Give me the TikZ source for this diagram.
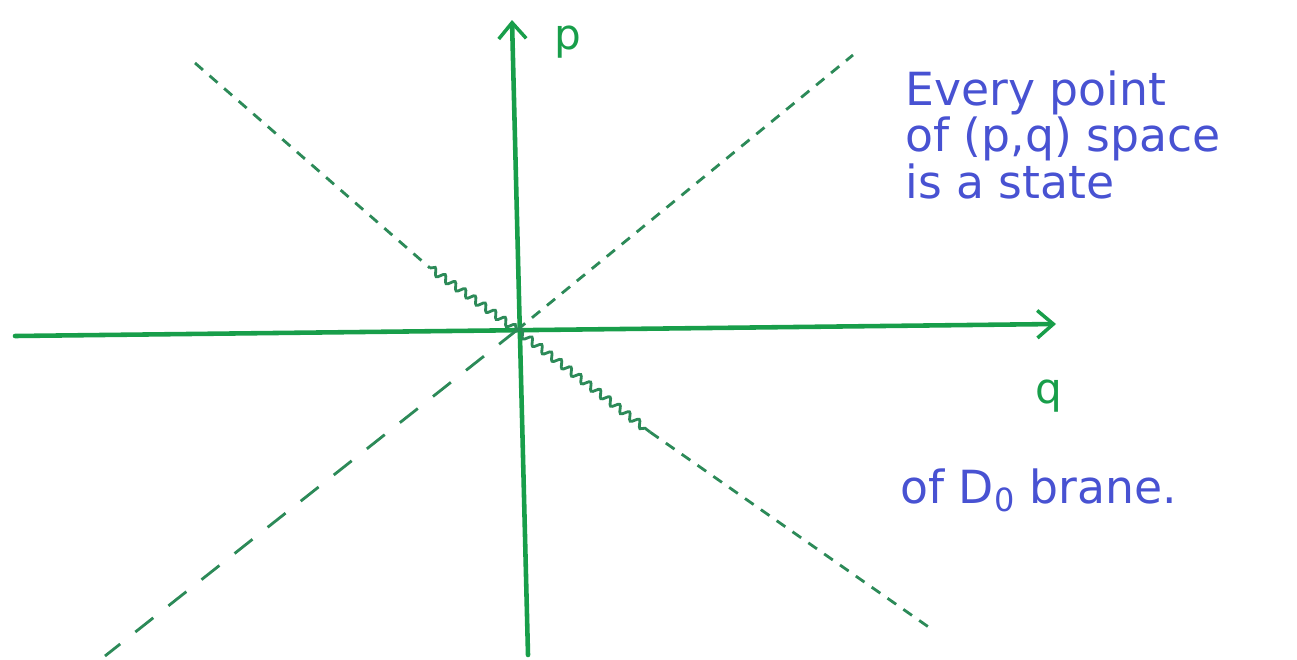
\documentclass[tikz,border=0pt]{standalone}
\usepackage{fontspec}
\newfontfamily\handfont{DejaVu Sans}
\usetikzlibrary{arrows.meta,decorations.pathmorphing}
\definecolor{penGreen}{RGB}{24,158,74}
\definecolor{dashGreen}{RGB}{44,138,88}
\definecolor{inkBlue}{RGB}{72,82,210}
\tikzset{
  axis/.style={penGreen,line width=2.6pt,line cap=round,
    -{Straight Barb[length=3.2mm,width=5.5mm,line width=2pt]}},
  axlbl/.style={penGreen,font=\handfont\fontsize{24}{26}\selectfont,inner sep=1pt},
  dline/.style={dashGreen,line width=1.6pt},
  longdash/.style={dline,dash pattern=on 13pt off 11pt},
  shortdash/.style={dline,dash pattern=on 6pt off 5pt},
  wavy/.style={dline,decorate,decoration={snake,segment length=7pt,amplitude=2pt}},
  note/.style={inkBlue,font=\handfont\fontsize{26}{26.5}\selectfont,align=left,inner sep=0pt},
}
\begin{document}
\begin{tikzpicture}[x=0.02cm,y=-0.02cm]
  \useasboundingbox (0,0) rectangle (1297,659);
  \coordinate (O) at (517,330);
  % axes
  \coordinate (qL) at (15,336);
  \coordinate (qR) at (1056,324);
  \coordinate (pB) at (528,655);
  \coordinate (pT) at (512,20);
  \draw[axis] (qL) -- (qR);
  \draw[axis] (pB) -- (pT);
  \node[axlbl] (plab) at (568,42) {p};
  \node[axlbl] (qlab) at (1049,396) {q};
  % dashed diagonals
  \coordinate (tl) at (195,63);
  \coordinate (tlw) at (430,268);
  \coordinate (tr) at (853,55);
  \coordinate (bl) at (105,656);
  \coordinate (br) at (930,628);
  \coordinate (brw) at (650,432);
  \draw[shortdash] (tl) -- (tlw);
  \draw[wavy] (tlw) -- (O);
  \draw[shortdash] (O) -- (tr);
  \draw[longdash] (O) -- (bl);
  \draw[wavy] (O) -- (brw);
  \draw[shortdash] (brw) -- (br);
  % text
  \node[note,anchor=north west] (txtA) at (905,70)
    {Every point\\of (p,q) space\\is a state};
  \node[note,anchor=north west] (txtB) at (900,468) {of D\textsubscript{0} brane.};
\end{tikzpicture}
\end{document}
